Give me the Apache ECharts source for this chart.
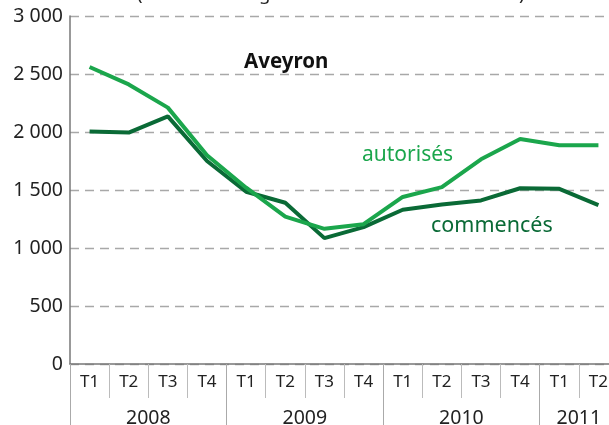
<!DOCTYPE html>
<html>
<head>
<meta charset="utf-8">
<script src="https://cdn.jsdelivr.net/npm/echarts@6/dist/echarts.min.js"></script>
<style>
  html, body { margin: 0; padding: 0; background: #fff; }
  #chart { width: 609px; height: 425px; }
</style>
</head>
<body>
<div id="chart"></div>
<script>
const quarters = ['T1', 'T2', 'T3', 'T4', 'T1', 'T2', 'T3', 'T4', 'T1', 'T2', 'T3', 'T4', 'T1', 'T2'];
const years = ['2008', '2009', '2010', '2011'];
const yearLabelPos = [2, 6, 10, 13];
const yearSepPos = [0, 4, 8, 12];
const autorises = [2560, 2410, 2210, 1800, 1520, 1270, 1165, 1205, 1440, 1525, 1765, 1940, 1885, 1885];
const commences = [2005, 1995, 2135, 1750, 1485, 1390, 1085, 1180, 1330, 1375, 1410, 1515, 1510, 1370];

const lightGreen = '#1ba64c';
const darkGreen = '#0a6a36';
const font = 'Noto Sans';

const chart = echarts.init(document.getElementById('chart'));

const spaced = (v) => String(v).replace(/\B(?=(\d{3})+(?!\d))/g, ' ');

chart.setOption({
  animation: false,
  textStyle: { fontFamily: font },
  grid: { left: 70, right: -9, top: 16, bottom: 61, containLabel: false, outerBoundsMode: 'none' },
  xAxis: [
    {
      type: 'category',
      data: quarters,
      position: 'bottom',
      boundaryGap: true,
      axisLine: { show: true, lineStyle: { color: '#777', width: 1.5 } },
      axisTick: { show: true, interval: 0, length: 34, lineStyle: { color: '#bbb', width: 1 } },
      axisLabel: { interval: 0, color: '#222', fontSize: 17, margin: 10 }
    },
    {
      type: 'value',
      min: 0,
      max: 14,
      position: 'bottom',
      axisLine: { show: false },
      splitLine: { show: false },
      axisTick: { show: true, customValues: yearSepPos, length: 61, lineStyle: { color: '#aaa', width: 1 } },
      axisLabel: {
        customValues: yearLabelPos,
        color: '#222',
        fontSize: 19.5,
        margin: 44,
        formatter: (v) => years[yearLabelPos.indexOf(v)] || ''
      }
    }
  ],
  yAxis: {
    type: 'value',
    min: 0,
    max: 3000,
    interval: 500,
    axisLine: { show: true, lineStyle: { color: '#777', width: 1.5 } },
    axisTick: { show: false },
    axisLabel: { color: '#222', fontSize: 19.5, margin: 7, formatter: spaced },
    splitLine: { show: true, lineStyle: { color: '#a8a8a8', width: 1.3, type: [9, 6] } }
  },
  series: [
    {
      name: 'commencés',
      type: 'line',
      data: commences,
      symbol: 'none',
      lineStyle: { color: darkGreen, width: 4 }
    },
    {
      name: 'autorisés',
      type: 'line',
      data: autorises,
      symbol: 'none',
      lineStyle: { color: lightGreen, width: 4 }
    }
  ],
  graphic: [
    {
      type: 'text', left: 137, top: -15,
      style: { text: '(nombre de logements cumulés sur 12 mois)', font: '18.5px "Noto Sans"', fill: '#222' }
    },
    {
      type: 'text', left: 244, top: 52,
      style: { text: 'Aveyron', font: 'bold 20.5px "Noto Sans"', fill: '#111' }
    },
    {
      type: 'text', left: 362, top: 145,
      style: { text: 'autorisés', font: '21px "Noto Sans"', fill: lightGreen }
    },
    {
      type: 'text', left: 431, top: 215,
      style: { text: 'commencés', font: '21.5px "Noto Sans"', fill: darkGreen }
    }
  ]
});
</script>
</body>
</html>
